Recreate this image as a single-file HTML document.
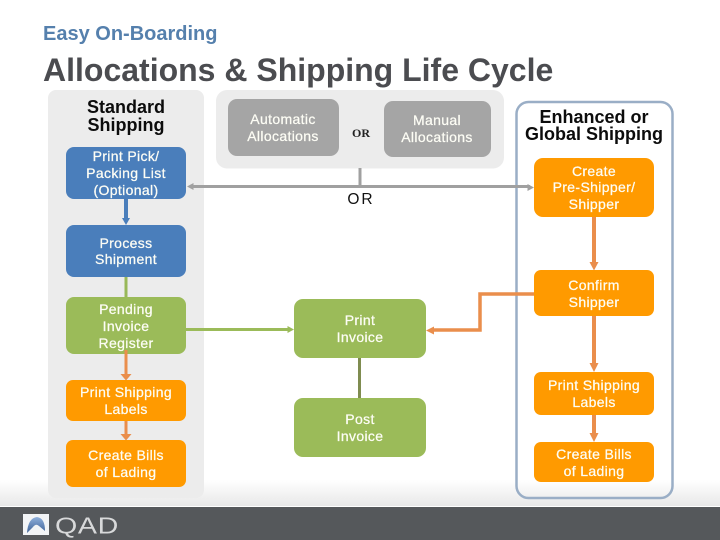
<!DOCTYPE html>
<html><head><meta charset="utf-8"><style>
html,body{margin:0;padding:0;background:#fff}
svg{display:block}
text{font-family:"Liberation Sans",sans-serif}
.w{fill:#fdfdf5;font-size:14px;text-anchor:middle;letter-spacing:.35px;font-weight:400;stroke:#fdfdf5;stroke-width:.25px}
.h{fill:#0c0c0c;font-size:18px;font-weight:bold;text-anchor:middle}
</style></head><body>
<svg width="720" height="540" viewBox="0 0 720 540" xmlns="http://www.w3.org/2000/svg">
<defs>
<linearGradient id="g" x1="0" y1="0" x2="0" y2="1"><stop offset="0" stop-color="#fff"/><stop offset="1" stop-color="#e8e8e8"/></linearGradient>
<linearGradient id="d" x1="0" y1="0" x2="0" y2="1"><stop offset="0" stop-color="#8fb0dc"/><stop offset="1" stop-color="#3f6296"/></linearGradient>
</defs>
<rect x="0" y="480" width="720" height="26" fill="url(#g)"/>
<rect x="48" y="90" width="156" height="408" rx="8" fill="#ececec"/>
<rect x="216" y="90" width="288" height="78.500" rx="11" fill="#ececec"/>
<rect x="516.500" y="102" width="156" height="396" rx="12" fill="none" stroke="#9aaec6" stroke-width="2.500"/>
<rect x="0" y="506" width="720" height="1.500" fill="#fff"/>
<rect x="0" y="507" width="720" height="33" fill="#55585b"/>
<!-- logo -->
<rect x="23" y="514" width="26" height="21" fill="#f2f4f6"/>
<path d="M27 533Q28 518 37 517Q45 518 45 531L39 526Q36 523 33 527Z" fill="url(#d)"/>
<text x="55" y="533.500" style="font-size:23px;fill:#d8d9da;letter-spacing:.5px" textLength="64" lengthAdjust="spacingAndGlyphs">QAD</text>

<text x="43" y="40" style="font-size:20px;font-weight:bold;fill:#5580ad">Easy On-Boarding</text>
<text x="43" y="81" style="font-size:32px;font-weight:bold;fill:#4b4c50">Allocations &amp; Shipping Life Cycle</text>

<!-- connectors -->
<g fill="none">
<path d="M126 199V220" stroke="#4a7ebb" stroke-width="4"/>
<path d="M126 277V297" stroke="#98b858" stroke-width="3"/>
<path d="M126 421V435" stroke="#ea8e4c" stroke-width="3"/>
<path d="M190 186.500H530" stroke="#a0a0a0" stroke-width="3"/>
<path d="M360 168V186" stroke="#a0a0a0" stroke-width="3"/>
<path d="M186 329.500H290" stroke="#9bbb59" stroke-width="3"/>
<path d="M359.500 358V398" stroke="#7f8c50" stroke-width="3"/>
<path d="M534 294H480V330H432" stroke="#ea8e4c" stroke-width="3.500"/>
<path d="M594 217V264" stroke="#ea8e4c" stroke-width="4"/>
<path d="M594 316V366" stroke="#ea8e4c" stroke-width="4"/>
<path d="M594 415V436" stroke="#ea8e4c" stroke-width="4"/>
</g>
<g>
<path d="M122 218H130L126 225Z" fill="#4a7ebb"/>
<path d="M120.500 374H131.500L126 380.500Z" fill="#ea8e4c"/>
<path d="M120.500 434H131.500L126 440.500Z" fill="#ea8e4c"/>
<path d="M187 186.500L193.500 183V190Z" fill="#a0a0a0"/>
<path d="M534 187.500L527.500 184V191Z" fill="#a0a0a0"/>
<path d="M294 329.500L287.500 326V333Z" fill="#9bbb59"/>
<path d="M426 330.500L434 326.500V334.500Z" fill="#ea8e4c"/>
<path d="M589.500 262H598.500L594 270.500Z" fill="#ea8e4c"/>
<path d="M589.500 363H598.500L594 372Z" fill="#ea8e4c"/>
<path d="M589.500 433H598.500L594 442Z" fill="#ea8e4c"/>
</g>

<!-- boxes -->
<rect x="66" y="147" width="120" height="52" rx="8" fill="#4a7ebb"/>
<rect x="66" y="225" width="120" height="52" rx="8" fill="#4a7ebb"/>
<rect x="66" y="297" width="120" height="57" rx="8" fill="#9bbb59"/>
<rect x="66" y="380" width="120" height="41" rx="7" fill="#ff9a00"/>
<rect x="66" y="440" width="120" height="47" rx="7" fill="#ff9a00"/>
<rect x="228" y="99" width="111" height="57" rx="9" fill="#a5a5a5"/>
<rect x="384" y="101" width="107" height="56" rx="9" fill="#a5a5a5"/>
<rect x="294" y="299" width="132" height="59" rx="9" fill="#9bbb59"/>
<rect x="294" y="398" width="132" height="59" rx="9" fill="#9bbb59"/>
<rect x="534" y="158" width="120" height="59" rx="9" fill="#ff9a00"/>
<rect x="534" y="270" width="120" height="46" rx="7" fill="#ff9a00"/>
<rect x="534" y="372" width="120" height="43" rx="7" fill="#ff9a00"/>
<rect x="534" y="442" width="120" height="40" rx="7" fill="#ff9a00"/>
<path d="M126 350V375" stroke="#ea8e4c" stroke-width="3" fill="none"/>

<!-- headings -->
<text class="h" x="126" y="113">Standard</text>
<text class="h" x="126" y="131">Shipping</text>
<text class="h" x="594" y="123">Enhanced or</text>
<text class="h" x="594" y="140">Global Shipping</text>
<text x="361" y="137" style="font-size:12px;font-weight:bold;font-family:'Liberation Serif',serif;text-anchor:middle;fill:#222">OR</text>
<text x="361" y="204" style="font-size:15.500px;text-anchor:middle;fill:#111;letter-spacing:2px">OR</text>

<!-- labels -->
<text class="w" x="126" y="161">Print Pick/</text>
<text class="w" x="126" y="178">Packing List</text>
<text class="w" x="126" y="195">(Optional)</text>
<text class="w" x="126" y="248">Process</text>
<text class="w" x="126" y="264">Shipment</text>
<text class="w" x="126" y="314">Pending</text>
<text class="w" x="126" y="331">Invoice</text>
<text class="w" x="126" y="348">Register</text>
<text class="w" x="126" y="397">Print Shipping</text>
<text class="w" x="126" y="414">Labels</text>
<text class="w" x="126" y="460">Create Bills</text>
<text class="w" x="126" y="477">of Lading</text>
<text class="w" x="283" y="124">Automatic</text>
<text class="w" x="283" y="141">Allocations</text>
<text class="w" x="437" y="125">Manual</text>
<text class="w" x="437" y="142">Allocations</text>
<text class="w" x="360" y="325">Print</text>
<text class="w" x="360" y="342">Invoice</text>
<text class="w" x="360" y="424">Post</text>
<text class="w" x="360" y="441">Invoice</text>
<text class="w" x="594" y="176">Create</text>
<text class="w" x="594" y="192">Pre-Shipper/</text>
<text class="w" x="594" y="209">Shipper</text>
<text class="w" x="594" y="290">Confirm</text>
<text class="w" x="594" y="307">Shipper</text>
<text class="w" x="594" y="390">Print Shipping</text>
<text class="w" x="594" y="407">Labels</text>
<text class="w" x="594" y="459">Create Bills</text>
<text class="w" x="594" y="476">of Lading</text>
</svg>
</body></html>
